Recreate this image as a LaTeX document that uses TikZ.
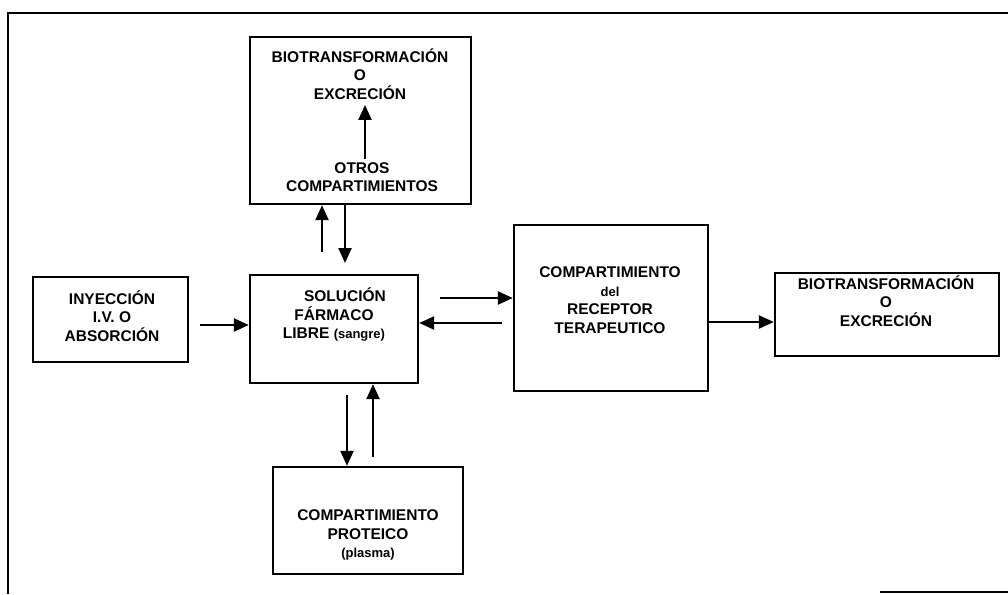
\documentclass[tikz,border=0pt]{standalone}
\usepackage{fontspec}
\setmainfont{Liberation Sans}
\usetikzlibrary{arrows.meta}
\begin{document}
\begin{tikzpicture}[x=1pt,y=-1pt,
  box/.style={draw,line width=2.4pt,rectangle,inner sep=0pt},
  lbl/.style={align=center,font=\fontsize{15.5}{18.5}\selectfont\bfseries},
  conn/.style={line width=2.4pt,-{Triangle[length=15pt,width=13pt]}},
  frame/.style={line width=2.4pt}]
\useasboundingbox (0,0) rectangle (1008,594);
% outer frame (partial)
\coordinate (f1) at (8,594);
\coordinate (f2) at (8,13);
\coordinate (f3) at (1008,13);
\coordinate (f4) at (880,592);
\coordinate (f5) at (1008,592);
\draw[frame] (f1) -- (f2) -- (f3);
\draw[frame] (f4) -- (f5);
% boxes
\node[box,minimum width=221pt,minimum height=167pt] (top) at (360.5,120.5) {};
\node[box,minimum width=155pt,minimum height=85pt] (iny) at (110.5,319.5) {};
\node[box,minimum width=168pt,minimum height=108pt] (sol) at (334,329) {};
\node[box,minimum width=194pt,minimum height=166pt] (rec) at (611,308) {};
\node[box,minimum width=224pt,minimum height=83pt] (bio) at (887,314.5) {};
\node[box,minimum width=190pt,minimum height=107pt] (prot) at (368,520.5) {};
% texts
\node[lbl] (bioA) at (360,74) {BIOTRANSFORMACIÓN\\O\\EXCRECIÓN};
\node[lbl] (otros) at (362,177) {OTROS\\COMPARTIMIENTOS};
\node[lbl] (inyt) at (112,316) {INYECCIÓN\\I.V. O\\ABSORCIÓN};
\node[lbl] (solt) at (334,315) {\hspace*{22pt}SOLUCIÓN\\FÁRMACO\\LIBRE {\fontsize{13}{18.5}\selectfont(sangre)}};
\node[lbl] (rect) at (610,300) {COMPARTIMIENTO\\{\fontsize{13}{18.5}\selectfont del}\\RECEPTOR\\TERAPEUTICO};
\node[lbl] (biot) at (886,301) {BIOTRANSFORMACIÓN\\O\\EXCRECIÓN};
\node[lbl] (prott) at (368,535) {COMPARTIMIENTO\\PROTEICO\\{\fontsize{13}{18.5}\selectfont(plasma)}};
% arrow coordinates
\coordinate (a1) at (200,325);
\coordinate (u1s) at (322,252);
\coordinate (d1e) at (345,263);
\coordinate (s2) at (440,298);
\coordinate (r2) at (502,323);
\coordinate (d2s) at (347,395);
\coordinate (u2s) at (373,457);
% connectors
\draw[conn] (a1) -- (a1 -| sol.west);
\draw[conn] (u1s) -- (u1s |- top.south);
\draw[conn] (d1e |- top.south) -- (d1e);
\draw[conn] (otros.north -| 365,0) -- ([yshift=-2pt]bioA.south -| 365,0);
\draw[conn] (s2) -- (s2 -| rec.west);
\draw[conn] (r2) -- (r2 -| sol.east);
\draw[conn] (rec.east |- 0,322) -- (bio.west |- 0,322);
\draw[conn] (d2s) -- (d2s |- prot.north);
\draw[conn] (u2s) -- (u2s |- sol.south);
\end{tikzpicture}
\end{document}
